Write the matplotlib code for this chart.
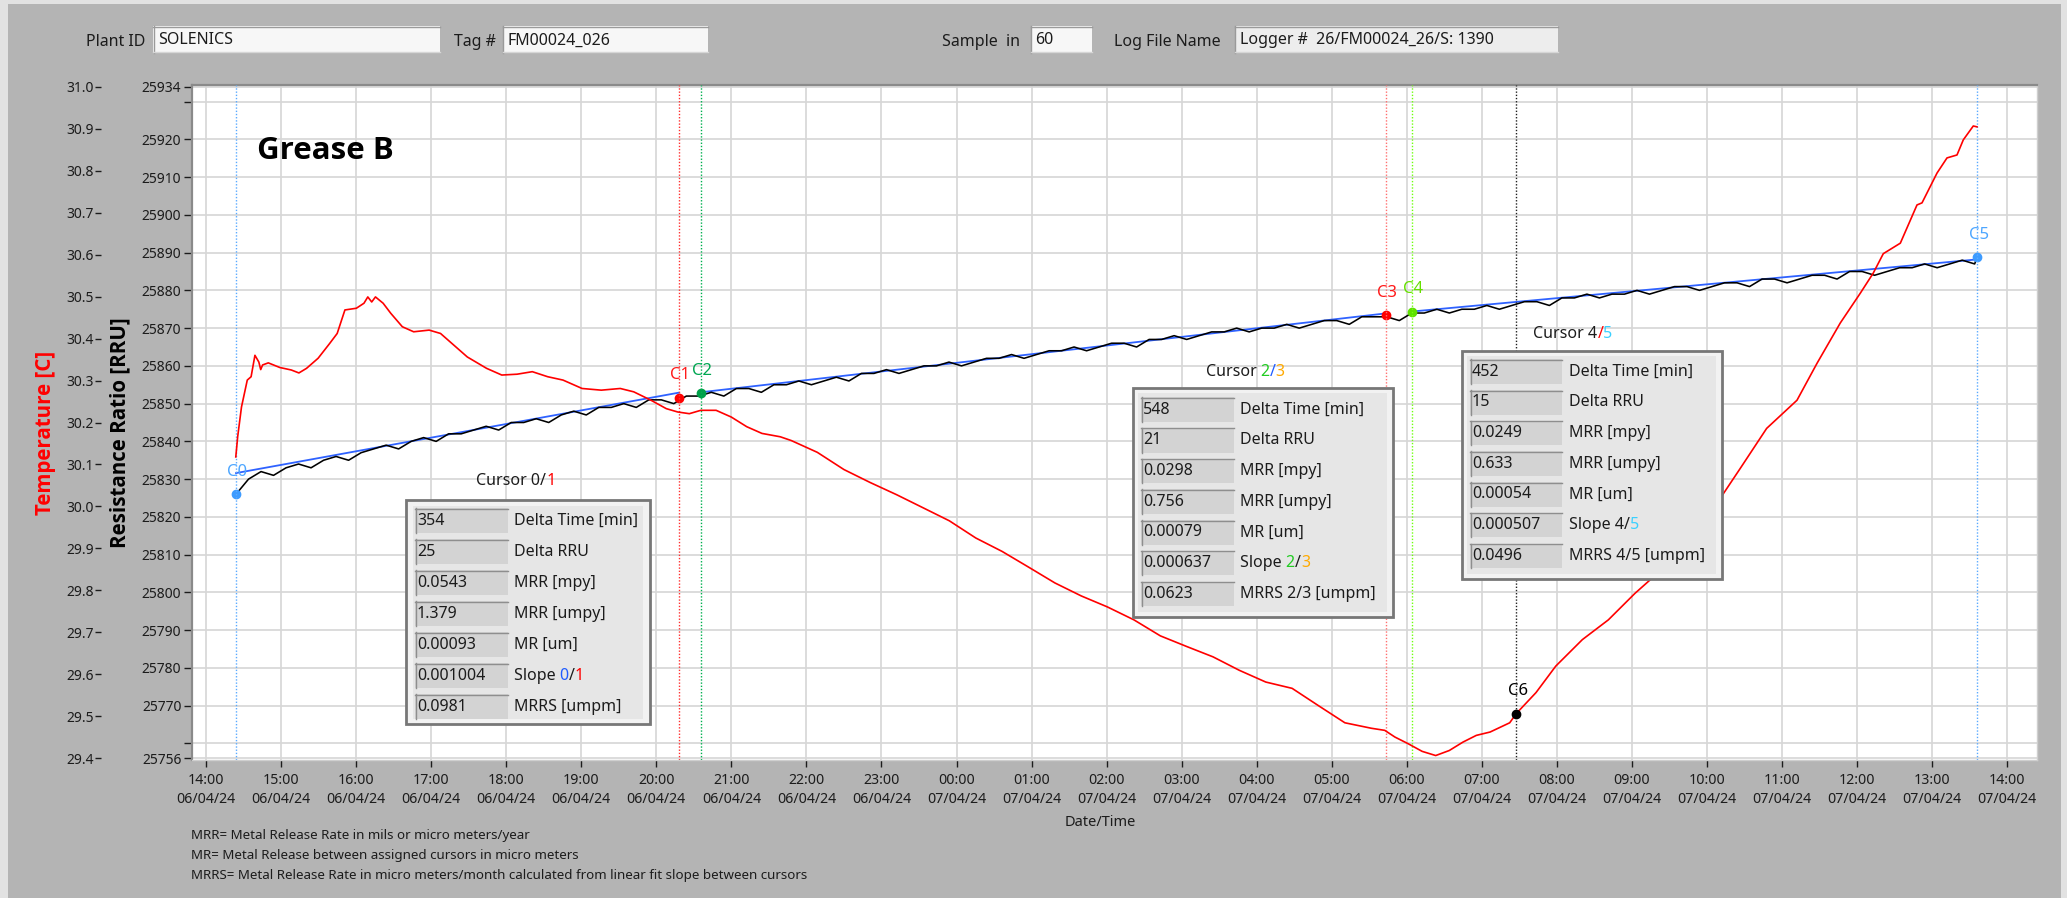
import matplotlib
matplotlib.use('Agg')
import matplotlib.pyplot as plt
from matplotlib.patches import Rectangle
from matplotlib.lines import Line2D
from matplotlib import font_manager
from datetime import datetime, timedelta

plt.rcParams['font.family'] = ['Noto Sans', 'DejaVu Sans']

W, H = 2067, 898
BASE = datetime(2024, 4, 6, 14, 0)

# ---------------- data ----------------
# Temperature trace: hours after 14:00 06/04/24, degrees C
temp_hours = [0.397, 0.422, 0.473, 0.550, 0.601, 0.652, 0.704, 0.729, 0.754, 0.830,
              0.983, 1.137, 1.238, 1.340, 1.494, 1.647, 1.748, 1.851, 2.003, 2.105,
              2.156, 2.208, 2.258, 2.360, 2.462, 2.616, 2.767, 2.973, 3.125, 3.227,
              3.482, 3.738, 3.941, 4.145, 4.348, 4.553, 4.757, 5.011, 5.267, 5.520,
              5.700, 5.929, 6.133, 6.286, 6.440, 6.593, 6.797, 6.999, 7.205, 7.408,
              7.652, 7.799, 8.145, 8.500, 8.851, 9.203, 9.554, 9.904, 10.257, 10.608,
              10.957, 11.311, 11.663, 12.009, 12.365, 12.716, 13.062, 13.418, 13.768, 14.121,
              14.472, 14.821, 15.175, 15.527, 15.706, 15.842, 16.020, 16.204, 16.385, 16.566,
              16.748, 16.926, 17.110, 17.371, 17.459, 17.722, 17.985, 18.339, 18.685, 19.039,
              19.391, 19.741, 20.093, 20.444, 20.795, 21.199, 21.466, 21.776, 22.043, 22.216,
              22.349, 22.576, 22.798, 22.865, 23.065, 23.198, 23.331, 23.415, 23.548, 23.597]
temp_values = [30.118, 30.166, 30.237, 30.301, 30.309, 30.360, 30.344, 30.326, 30.337, 30.342,
               30.331, 30.325, 30.318, 30.329, 30.353, 30.388, 30.412, 30.468, 30.472, 30.484,
               30.499, 30.487, 30.499, 30.484, 30.460, 30.428, 30.416, 30.420, 30.412, 30.396,
               30.356, 30.329, 30.313, 30.315, 30.321, 30.309, 30.301, 30.281, 30.277, 30.281,
               30.273, 30.253, 30.233, 30.225, 30.221, 30.229, 30.229, 30.213, 30.190, 30.174,
               30.166, 30.157, 30.129, 30.088, 30.057, 30.028, 29.997, 29.966, 29.925, 29.893,
               29.856, 29.818, 29.787, 29.761, 29.730, 29.692, 29.667, 29.642, 29.610, 29.582,
               29.567, 29.526, 29.485, 29.472, 29.467, 29.451, 29.435, 29.417, 29.407, 29.419,
               29.439, 29.455, 29.463, 29.485, 29.507, 29.557, 29.620, 29.683, 29.730, 29.793,
               29.849, 29.909, 29.997, 30.091, 30.186, 30.253, 30.341, 30.437, 30.508, 30.556,
               30.602, 30.627, 30.718, 30.723, 30.794, 30.830, 30.837, 30.873, 30.906, 30.904]

# Resistance ratio trace, read every 10 min from 14:24 06/04/24
rru_start_hour = 0.40
rru_step_min = 10
rru_values = [25826, 25830, 25832, 25831, 25833, 25834, 25833, 25835, 25836, 25835,
              25837, 25838, 25839, 25838, 25840, 25841, 25840, 25842, 25842, 25843,
              25844, 25843, 25845, 25845, 25846, 25845, 25847, 25848, 25847, 25849,
              25849, 25850, 25849, 25851, 25851, 25850, 25852, 25852, 25853, 25852,
              25854, 25854, 25853, 25855, 25855, 25856, 25855, 25856, 25857, 25856,
              25858, 25858, 25859, 25858, 25859, 25860, 25860, 25861, 25860, 25861,
              25862, 25862, 25863, 25862, 25863, 25864, 25864, 25865, 25864, 25865,
              25866, 25866, 25865, 25867, 25867, 25868, 25867, 25868, 25869, 25869,
              25870, 25869, 25870, 25870, 25871, 25870, 25871, 25872, 25872, 25871,
              25873, 25873, 25873, 25872, 25874, 25874, 25875, 25874, 25875, 25875,
              25876, 25875, 25876, 25877, 25877, 25876, 25878, 25878, 25879, 25878,
              25879, 25879, 25880, 25879, 25880, 25881, 25881, 25880, 25881, 25882,
              25882, 25881, 25883, 25883, 25882, 25883, 25884, 25884, 25883, 25885,
              25885, 25884, 25885, 25886, 25886, 25887, 25886, 25887, 25888, 25887]
rru_last_hour = 23.60
rru_last_value = 25889

# Linear fits between cursor pairs (0/1, 2/3, 4/5)
fit_start_hours = [0.40, 6.59, 16.07]
fit_end_hours = [6.30, 15.72, 23.60]
fit_start_rru = [25831.6, 25853.0, 25874.4]
fit_end_rru = [25852.9, 25873.9, 25888.2]

# Cursors
cursor_names = ['C0', 'C1', 'C2', 'C3', 'C4', 'C5', 'C6']
cursor_hours = [0.40, 6.30, 6.59, 15.72, 16.07, 23.60, 17.46]
cursor_values = [25826.0, 25851.6, 25852.7, 25873.4, 25874.4, 25888.9, 29.507]
cursor_on_temp = [False, False, False, False, False, False, True]

# Axes ticks
rru_ticks = [25756, 25760, 25770, 25780, 25790, 25800, 25810, 25820, 25830, 25840,
             25850, 25860, 25870, 25880, 25890, 25900, 25910, 25920, 25930, 25934]
rru_ticklabels = ['25756', '', '25770', '25780', '25790', '25800', '25810', '25820', '25830',
                  '25840', '25850', '25860', '25870', '25880', '25890', '25900', '25910',
                  '25920', '', '25934']
temp_ticks = [29.4, 29.5, 29.6, 29.7, 29.8, 29.9, 30.0, 30.1, 30.2, 30.3, 30.4, 30.5,
              30.6, 30.7, 30.8, 30.9, 31.0]
x_tick_hours = list(range(0, 25))

# Header fields
field_labels = ['Plant ID', 'Tag #', 'Sample  in', 'Log File Name']
field_values = ['SOLENICS', 'FM00024_026', '60', 'Logger #  26/FM00024_26/S: 1390']

# Cursor result panels
box01_values = ['354', '25', '0.0543', '1.379', '0.00093', '0.001004', '0.0981']
box01_labels = ['Delta Time [min]', 'Delta RRU', 'MRR [mpy]', 'MRR [umpy]', 'MR [um]',
                'Slope 0/1', 'MRRS [umpm]']
box23_values = ['548', '21', '0.0298', '0.756', '0.00079', '0.000637', '0.0623']
box23_labels = ['Delta Time [min]', 'Delta RRU', 'MRR [mpy]', 'MRR [umpy]', 'MR [um]',
                'Slope 2/3', 'MRRS 2/3 [umpm]']
box45_values = ['452', '15', '0.0249', '0.633', '0.00054', '0.000507', '0.0496']
box45_labels = ['Delta Time [min]', 'Delta RRU', 'MRR [mpy]', 'MRR [umpy]', 'MR [um]',
                'Slope 4/5', 'MRRS 4/5 [umpm]']

notes = ['MRR= Metal Release Rate in mils or micro meters/year',
         'MR= Metal Release between assigned cursors in micro meters',
         'MRRS= Metal Release Rate in micro meters/month calculated from linear fit slope between cursors']

# ---------------- drawing ----------------
INK = '#1c1c1c'
RED = '#ff0000'
GREEN = '#22cc22'
ORANGE = '#ffaa00'
BLUE = '#1f5cff'
CYAN = '#3ad0ff'
CUR_LINE = ['#5aaaff', '#ff3030', '#00b050', '#ff7070', '#70ff10', '#5aaaff', '#202020']
CUR_MARK = ['#3d9bff', '#ff0000', '#00a04a', '#ff0000', '#5ee000', '#3d9bff', '#000000']
CUR_TEXT = ['#4da6ff', '#ff1a1a', '#00a651', '#ff1a1a', '#66e000', '#4da6ff', '#000000']


def pick_bold_family():
    for fam in ['Noto Sans', 'Open Sans', 'Roboto', 'Lato', 'Inter', 'Liberation Sans']:
        for f in font_manager.fontManager.ttflist:
            if f.name == fam and (f.weight in ('bold', 700, 'semibold', 600) or
                                  (isinstance(f.weight, int) and f.weight >= 600)):
                return [fam, 'DejaVu Sans']
    return ['DejaVu Sans']


BOLD_FAM = pick_bold_family()


def t_of(h):
    return BASE + timedelta(hours=h)


fig = plt.figure(figsize=(W / 100, H / 100), dpi=100)
fig.patch.set_facecolor('#b4b4b4')


def px_rect(x0, y0, x1, y1, fc, ec='none', lw=0.0, z=2):
    r = Rectangle((x0 / W, 1 - y1 / H), (x1 - x0) / W, (y1 - y0) / H,
                  transform=fig.transFigure, facecolor=fc, edgecolor=ec,
                  linewidth=lw, zorder=z)
    fig.add_artist(r)


def px_line(xs, ys, color, lw=1.0, z=3):
    fig.add_artist(Line2D([x / W for x in xs], [1 - y / H for y in ys],
                          transform=fig.transFigure, color=color, lw=lw, zorder=z))


def px_text(x, y, s, size, color=INK, ha='left', va='center', z=6, **kw):
    return fig.text(x / W, 1 - y / H, s, fontsize=size, color=color, ha=ha, va=va,
                    zorder=z, **kw)


renderer = fig.canvas.get_renderer()


def text_w(s, size):
    if not s:
        return 0.0
    t = fig.text(0, 0, s + '|', fontsize=size)
    w1 = t.get_window_extent(renderer).width
    t.set_text('|')
    w2 = t.get_window_extent(renderer).width
    t.remove()
    return w1 - w2


def px_multitext(x, y, parts, size, ha='left'):
    total = text_w(''.join(s for s, _ in parts), size)
    x0 = x - total / 2 if ha == 'center' else x
    prefix = ''
    for s, c in parts:
        px_text(x0 + text_w(prefix, size), y, s, size, color=c)
        prefix += s


# light outer frame of the screenshot
px_rect(0, 0, W, 4, '#e2e2e2', z=1)
px_rect(0, 0, 8, H, '#e2e2e2', z=1)
px_rect(2061, 0, W, H, '#e2e2e2', z=1)

# ---- main axes ----
L, R, T, B = 192, 2037, 85, 760
ax = fig.add_axes([L / W, 1 - B / H, (R - L) / W, (B - T) / H])
ax.set_facecolor('white')
ax.set_xlim(t_of(-0.1865), t_of(24.397))
ax.set_ylim(25755.6, 25934.4)

ax.set_yticks(rru_ticks)
ax.set_yticklabels(rru_ticklabels)
xt = [t_of(h) for h in x_tick_hours]
ax.set_xticks(xt)
ax.set_xticklabels([d.strftime('%H:%M\n%d/%m/%y') for d in xt], linespacing=1.45)
ax.tick_params(axis='x', length=5, width=1, pad=4, labelsize=10.2, colors=INK)
ax.tick_params(axis='y', length=6.1, width=1, pad=1.6, labelsize=10, colors=INK)
ax.grid(True, color='#d6d6d6', lw=1.2)
ax.set_axisbelow(True)
for side in ['top', 'left']:
    ax.spines[side].set_color('#8a8a8a')
    ax.spines[side].set_linewidth(1.6)
for side in ['right', 'bottom']:
    ax.spines[side].set_color('#cfcfcf')
    ax.spines[side].set_linewidth(1.0)

# RRU trace
rru_times = [t_of(rru_start_hour + i * rru_step_min / 60.0) for i in range(len(rru_values))]
rru_times.append(t_of(rru_last_hour))
rru_all = list(rru_values) + [rru_last_value]
for h0, h1, v0, v1 in zip(fit_start_hours, fit_end_hours, fit_start_rru, fit_end_rru):
    ax.plot([t_of(h0), t_of(h1)], [v0, v1], color='#2f62ff', lw=1.3, zorder=2.5)
ax.plot(rru_times, rru_all, color='black', lw=1.15, zorder=3)

# temperature axis
ax2 = ax.twinx()
ax2.set_ylim(29.3964, 31.0036)
ax2.set_yticks(temp_ticks)
ax2.set_yticklabels(['%.1f' % v for v in temp_ticks])
ax2.yaxis.set_ticks_position('left')
ax2.spines['left'].set_position(('outward', 65.3))
for s in ax2.spines.values():
    s.set_visible(False)
ax2.tick_params(axis='y', length=4.3, width=1, pad=1.2, labelsize=10, colors=INK)

n = min(len(temp_hours), len(temp_values))
ax2.plot([t_of(h) for h in temp_hours[:n]], temp_values[:n], color=RED, lw=1.2, zorder=3)

# cursors
for i, (name, h, v, on_t) in enumerate(zip(cursor_names, cursor_hours, cursor_values, cursor_on_temp)):
    tt = t_of(h)
    ax2.axvline(tt, color=CUR_LINE[i], lw=1.0, ls=(0, (1, 1.3)), zorder=1)
    target = ax2 if on_t else ax
    target.plot([tt], [v], 'o', ms=6, color=CUR_MARK[i], zorder=5)
    target.annotate(name, (tt, v), xytext=(1, 16), textcoords='offset points',
                    ha='center', va='center', fontsize=12, color=CUR_TEXT[i], zorder=6)

px_text(257, 151, 'Grease B', 22.5, color='black', fontweight='bold', family=BOLD_FAM)

# axis titles
px_text(46, 433, 'Temperature [C]', 14.8, color=RED, ha='center', rotation=90,
        fontweight='bold', family=BOLD_FAM)
px_text(120, 433, 'Resistance Ratio [RRU]', 14.8, color='black', ha='center', rotation=90,
        fontweight='bold', family=BOLD_FAM)
px_text(1100, 822, 'Date/Time', 10.5, ha='center')
for k, line in enumerate(notes):
    px_text(191, 836 + 20 * k, line, 9.6)

# ---- header fields ----
field_geo = [(145, 153, 440), (496, 502.5, 708), (1020, 1030.6, 1091.8), (1221, 1234.7, 1557.8)]
field_fill = ['#f7f7f7', '#f7f7f7', '#f7f7f7', '#ededed']
for (lab_r, bx0, bx1), lab, val, fc in zip(field_geo, field_labels, field_values, field_fill):
    px_text(lab_r, 41.5, lab, 11.5, ha='right')
    px_rect(bx0, 26, bx1, 52.7, fc, z=2)
    px_line([bx0, bx1], [26.5, 26.5], '#9a9a9a', 1.0)
    px_line([bx0 + 0.5, bx0 + 0.5], [26, 52.7], '#9a9a9a', 1.0)
    px_line([bx0, bx1], [52.2, 52.2], '#d6d6d6', 1.0)
    px_text(bx0 + 5, 40.5, val, 11.5)


# ---- cursor panels ----
def cursor_box(outer, inner, vx0, vw, row0, pitch, rowh, lab_x, values, labels,
               slope_parts, title_parts, title_c):
    ox0, oy0, ox1, oy1 = outer
    px_rect(ox0, oy0, ox1, oy1, '#f2f2f2', '#777777', 2.0, z=2)
    ix0, iy0, ix1, iy1 = inner
    px_rect(ix0, iy0, ix1, iy1, '#e6e6e6', z=2.1)
    for i, (v, l) in enumerate(zip(values, labels)):
        y0 = row0 + i * pitch
        px_rect(vx0, y0, vx0 + vw, y0 + rowh, '#d3d3d3', z=2.2)
        px_line([vx0, vx0 + vw], [y0 + 0.5, y0 + 0.5], '#8e8e8e', 1.0)
        px_line([vx0 + 0.5, vx0 + 0.5], [y0, y0 + rowh], '#8e8e8e', 1.0)
        px_text(vx0 + 2, y0 + rowh / 2, v, 11.5)
        if i == 5:
            px_multitext(lab_x, y0 + rowh / 2, slope_parts, 11.5)
        else:
            px_text(lab_x, y0 + rowh / 2, l, 11.5)
    px_multitext(title_c[0], title_c[1], title_parts, 11.5, ha='center')


cursor_box((406, 500, 650, 724), (413, 506, 643, 719), 415, 93, 508.3, 31.0, 25,
           514, box01_values, box01_labels,
           [('Slope ', INK), ('0', BLUE), ('/', INK), ('1', RED)],
           [('Cursor 0/', INK), ('1', RED)], (516, 481))
cursor_box((1133, 388, 1393, 617), (1138, 393, 1387, 612), 1141, 93, 397.3, 30.7, 24.5,
           1240, box23_values, box23_labels,
           [('Slope ', INK), ('2', GREEN), ('/', INK), ('3', ORANGE)],
           [('Cursor ', INK), ('2', GREEN), ('/', BLUE), ('3', ORANGE)], (1245, 372))
cursor_box((1462, 351, 1722, 579), (1467, 356, 1716, 574), 1470, 92, 359.3, 30.7, 24.5,
           1569, box45_values, box45_labels,
           [('Slope 4/', INK), ('5', CYAN)],
           [('Cursor 4', INK), ('/', RED), ('5', CYAN)], (1573, 334))

fig.savefig('out.png', dpi=100, facecolor=fig.get_facecolor())
